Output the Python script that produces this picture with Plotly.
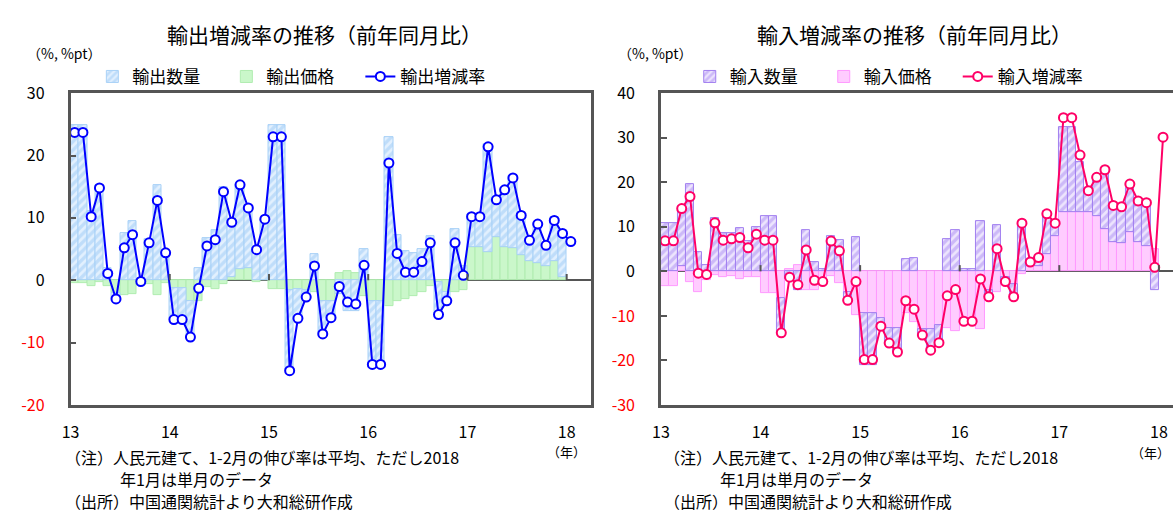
import plotly.graph_objects as go

# Month index 0 = Jan 2013 ... 60 = Jan 2018
months = list(range(61))
year_ticks = [-0.5, 11.5, 23.5, 35.5, 47.5, 59.5]
year_labels = ["13", "14", "15", "16", "17", "18"]

# ---- Exports (%, %pt, y/y) ----
exp_total = [23.7, 23.7, 10.2, 14.8, 1.1, -3.0, 5.2, 7.3, -0.2, 6.0, 12.8, 4.4,
             -6.3, -6.3, -9.1, -1.3, 5.5, 6.5, 14.2, 9.3, 15.3, 11.6, 4.9, 9.8,
             23.0, 23.0, -14.5, -6.1, -2.7, 2.3, -8.6, -6.0, -1.0, -3.5, -3.8, 2.4,
             -13.5, -13.5, 18.8, 4.3, 1.3, 1.3, 3.0, 6.0, -5.5, -3.3, 6.0, 0.8,
             10.2, 10.2, 21.4, 12.9, 14.5, 16.4, 10.4, 6.4, 9.0, 5.6, 9.6, 7.5,
             6.2]
exp_volume = [24.8, 24.8, 11.1, 15.2, 1.9, -0.9, 7.6, 9.5, 0.1, 6.6, 15.2, 4.9,
              -5.1, -5.1, -5.8, 2.0, 6.7, 8.0, 15.0, 8.8, 13.5, 9.7, 5.2, 9.7,
              24.8, 24.8, -13.0, -4.7, -1.1, 4.2, -5.2, -2.6, -2.2, -4.9, -5.0, 5.0,
              -10.1, -10.1, 23.0, 7.2, 4.6, 4.4, 5.0, 7.0, -5.2, -1.4, 8.2, 2.3,
              5.3, 5.3, 17.3, 6.2, 9.4, 11.6, 6.6, 3.5, 6.4, 3.5, 7.0, 7.0,
              None]
exp_price = [-0.5, -0.5, -0.9, -0.3, -0.9, -2.1, -2.4, -2.2, -0.3, -0.6, -2.4, -0.5,
             -1.2, -1.2, -3.3, -3.3, -1.1, -1.4, -0.6, 0.5, 1.8, 1.9, -0.3, 0.1,
             -1.4, -1.4, -1.5, -1.4, -1.6, -1.9, -3.4, -3.4, 1.2, 1.4, 1.2, -2.6,
             -3.4, -3.4, -4.2, -3.4, -3.1, -2.6, -1.9, -0.9, -0.3, -1.9, -1.9, -1.5,
             5.3, 5.3, 4.5, 6.9, 5.3, 5.1, 4.0, 3.0, 2.7, 2.3, 3.1, 0.5,
             None]

# ---- Imports (%, %pt, y/y) ----
imp_total = [6.85, 6.85, 14.1, 16.8, -0.4, -0.7, 10.9, 7.0, 7.3, 7.6, 5.3, 8.35,
             7.0, 7.0, -13.8, -1.3, -3.0, 4.8, -2.0, -2.3, 6.8, 4.6, -6.5, -2.3,
             -19.8, -19.8, -12.3, -16.1, -18.1, -6.6, -8.5, -14.3, -17.7, -16.0, -5.5, -4.1,
             -11.2, -11.2, -1.7, -5.7, 5.1, -2.3, -5.7, 10.8, 2.1, 3.1, 12.9, 10.8,
             34.5, 34.5, 26.1, 18.1, 21.1, 22.8, 14.8, 14.5, 19.6, 15.8, 15.4, 0.9,
             30.1]
imp_volume = [10.9, 10.9, 13.4, 19.6, 4.4, 1.3, 11.9, 8.6, 8.6, 9.6, 6.8, 9.85,
              12.4, 12.4, -7.7, -1.8, -4.3, 9.3, 2.1, 0.4, 7.8, 7.1, -1.8, 7.6,
              -11.6, -11.6, -1.7, -3.4, -5.4, 2.7, 3.0, -1.3, -4.7, -4.0, 7.3, 9.3,
              0.6, 0.6, 11.2, -1.4, 10.3, -0.9, -3.0, 10.3, 1.0, 2.0, 9.7, 3.1,
              19.0, 19.0, 11.3, 4.3, 8.1, 12.4, 7.7, 7.5, 9.8, 8.0, 8.9, -4.1,
              None]
imp_price = [-3.4, -3.4, 1.2, -2.5, -4.6, -2.0, -0.9, -1.4, -1.1, -1.8, -1.4, -1.4,
             -4.8, -4.8, -6.1, 0.5, 1.3, -4.1, -4.1, -2.7, -1.1, -2.7, -4.6, -9.9,
             -9.4, -9.4, -10.6, -12.7, -12.7, -9.3, -11.5, -13.0, -13.0, -12.0, -12.8, -13.4,
             -11.8, -11.8, -12.9, -4.3, -4.6, -1.4, -2.9, -0.7, 1.1, 1.1, 3.9, 8.0,
             13.3, 13.3, 13.3, 13.4, 12.4, 9.4, 6.6, 6.4, 8.9, 6.6, 5.7, 5.0,
             None]

FONT = "Noto Sans CJK JP"
W, H = 1173, 520
AXIS_COL = "#555555"


def px_x(v):
    return v / W


def px_y(v):
    return 1 - v / H


fig = go.Figure()

# Export panel
fig.add_bar(x=months, y=exp_price, name="輸出価格", xaxis="x", yaxis="y",
            legend="legend", legendrank=2,
            marker=dict(color="#caf7ca", line=dict(color="#b0ecb0", width=1)))
fig.add_bar(x=months, y=exp_volume, name="輸出数量", xaxis="x", yaxis="y",
            legend="legend", legendrank=1,
            marker=dict(color="#e2f0fe", line=dict(color="#a9d1f7", width=1),
                        pattern=dict(shape="/", fgcolor="#9ccaf6", fillmode="overlay",
                                     size=6, solidity=0.55)))
fig.add_scatter(x=months, y=exp_total, name="輸出増減率", xaxis="x", yaxis="y",
                legend="legend", legendrank=3, mode="lines+markers",
                line=dict(color="#0000ff", width=2),
                marker=dict(symbol="circle", size=9, color="white",
                            line=dict(color="#0000ff", width=2)))

# Import panel
fig.add_bar(x=months, y=imp_price, name="輸入価格", xaxis="x2", yaxis="y2",
            legend="legend2", legendrank=2,
            marker=dict(color="#ffccff", line=dict(color="#ff99ff", width=1)))
fig.add_bar(x=months, y=imp_volume, name="輸入数量", xaxis="x2", yaxis="y2",
            legend="legend2", legendrank=1,
            marker=dict(color="#ede5fd", line=dict(color="#a17ff0", width=1),
                        pattern=dict(shape="/", fgcolor="#ab8df4", fillmode="overlay",
                                     size=6, solidity=0.55)))
fig.add_scatter(x=months, y=imp_total, name="輸入増減率", xaxis="x2", yaxis="y2",
                legend="legend2", legendrank=3, mode="lines+markers",
                line=dict(color="#ff0066", width=2),
                marker=dict(symbol="circle", size=9, color="white",
                            line=dict(color="#ff0066", width=2)))


def ytext(vals):
    out = []
    for v in vals:
        if v < 0:
            out.append(f'<span style="color:#ff0000">{v}</span>')
        else:
            out.append(str(v))
    return out


left_yticks = [-20, -10, 0, 10, 20, 30]
right_yticks = [-30, -20, -10, 0, 10, 20, 30, 40]

ydom = [px_y(411), px_y(84)]
xaxis_common = dict(showline=True, linecolor=AXIS_COL, linewidth=2.5, mirror=True,
                    tickmode="array", tickvals=year_ticks, ticktext=year_labels,
                    ticks="", showgrid=False, zeroline=False, ticklabelstandoff=11,
                    tickfont=dict(family=FONT, size=16, color="black"))
yaxis_common = dict(showline=True, linecolor=AXIS_COL, linewidth=2.5,
                    ticks="inside", ticklen=6, tickcolor=AXIS_COL, tickwidth=2,
                    showgrid=False, zeroline=True, zerolinecolor=AXIS_COL,
                    zerolinewidth=2, ticklabelstandoff=20,
                    tickfont=dict(family=FONT, size=16, color="black"))

legend_common = dict(orientation="h", xanchor="left", yanchor="middle",
                     entrywidth=89, itemwidth=30,
                     font=dict(family=FONT, size=17), bgcolor="rgba(0,0,0,0)",
                     traceorder="normal")

fig.update_layout(
    width=W, height=H,
    margin=dict(l=0, r=0, t=0, b=0),
    paper_bgcolor="white", plot_bgcolor="white",
    barmode="relative", bargap=0,
    font=dict(family=FONT, size=15, color="black"),
    xaxis=dict(domain=[px_x(62), px_x(587)], range=[-0.5, 62.5], anchor="y",
               **xaxis_common),
    yaxis=dict(domain=ydom, range=[-20, 30], anchor="x", mirror=True,
               tickvals=left_yticks, ticktext=ytext(left_yticks), **yaxis_common),
    xaxis2=dict(domain=[px_x(657), 1.0], range=[-0.5, 61.2], anchor="y2",
                **xaxis_common),
    yaxis2=dict(domain=ydom, range=[-30, 40], anchor="x2", mirror=False,
                tickvals=right_yticks, ticktext=ytext(right_yticks), **yaxis_common),
    legend=dict(x=px_x(84), y=px_y(67), **legend_common),
    legend2=dict(x=px_x(686), y=px_y(67), **legend_common),
    showlegend=True,
)

# Year tick marks on the zero line
shapes = []
for xr, yr in (("x", "y"), ("x2", "y2")):
    for t in year_ticks[1:]:
        shapes.append(dict(type="line", xref=xr, yref=yr, x0=t, x1=t, y0=0,
                           y1=1.0 if yr == "y" else 1.4,
                           line=dict(color=AXIS_COL, width=2)))
fig.update_layout(shapes=shapes)

ann = []


def text(x, y, s, size=15, anchor="left"):
    ann.append(dict(x=px_x(x), y=px_y(y), xref="paper", yref="paper", text=s,
                    showarrow=False, xanchor=anchor, yanchor="middle",
                    font=dict(family=FONT, size=size, color="black")))


note_lines = [(0, "（注）人民元建て、1-2月の伸び率は平均、ただし2018"),
              (56, "年1月は単月のデータ"),
              (0, "（出所）中国通関統計より大和総研作成")]

text(318, 22, "輸出増減率の推移（前年同月比）", 21, "center")
text(912, 22, "輸入増減率の推移（前年同月比）", 21, "center")
text(16, 42, "（%, %pt）", 14)
text(612, 42, "（%, %pt）", 14)
text(540, 460, "（年）", 13)
text(1129, 461, "（年）", 13)
for x0 in (54, 658):
    for k, (dx, s) in enumerate(note_lines):
        text(x0 + dx, 466 + 23 * k, s, 16)
fig.update_layout(annotations=ann)

fig.write_html("out.html")
